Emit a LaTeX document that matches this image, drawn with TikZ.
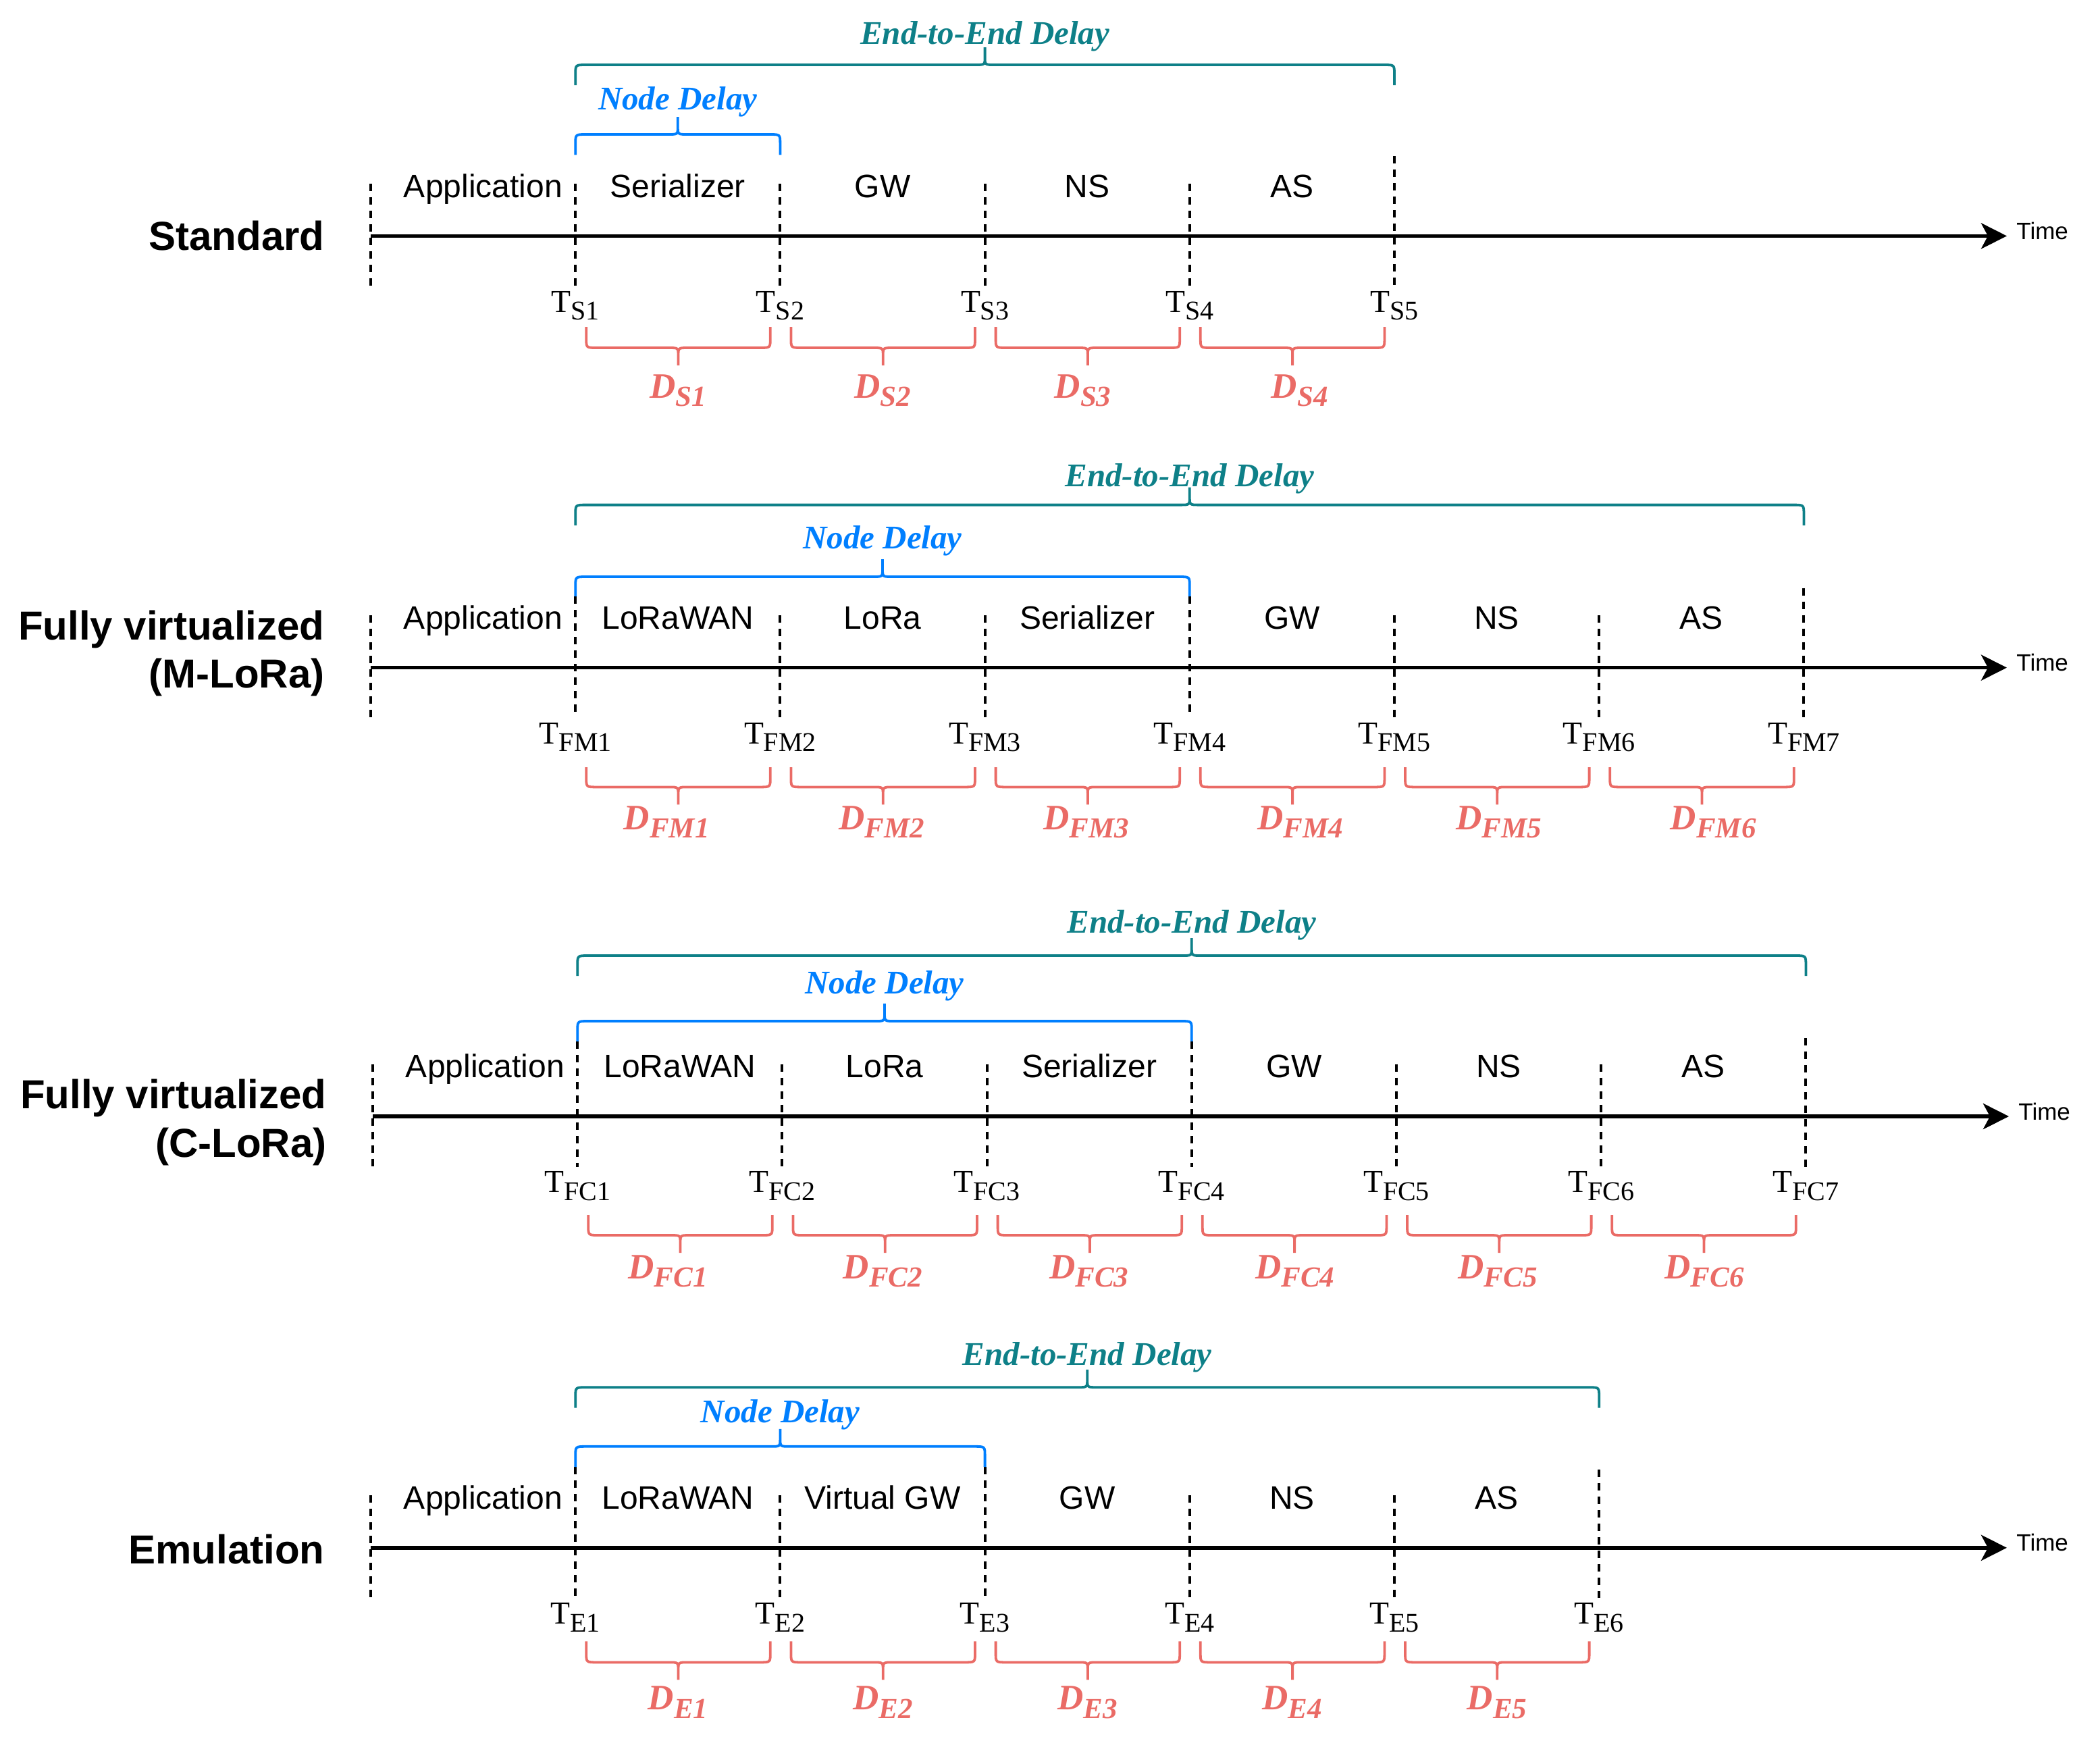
\documentclass[tikz,border=0pt]{standalone}
\usepackage{fontspec}
\setmainfont{Liberation Serif}
\newfontfamily\arialf{Liberation Sans}
\usetikzlibrary{arrows.meta}
\definecolor{e2ecol}{HTML}{0E8088}
\definecolor{nodecol}{HTML}{007FFF}
\definecolor{dcol}{HTML}{EA6B66}
\tikzset{
  axisline/.style={line width=2.8pt,-{Stealth[length=19pt,width=19pt,inset=5pt]}},
  tick/.style={line width=2pt,dash pattern=on 5.5pt off 4.5pt},
  seglbl/.style={font=\arialf\fontsize{24}{28}\selectfont,anchor=base,inner sep=0pt},
  titlelbl/.style={font=\arialf\bfseries\fontsize{30}{36}\selectfont,anchor=base east,inner sep=0pt},
  timelbl/.style={font=\arialf\fontsize{17.5}{20}\selectfont,anchor=base west,inner sep=0pt},
  tlbl/.style={anchor=base,inner sep=0pt},
  dlbl/.style={anchor=base,inner sep=0pt,text=dcol},
  e2elbl/.style={anchor=base,inner sep=0pt,text=e2ecol,font=\bfseries\itshape\fontsize{24.5}{28}\selectfont},
  nodelbl/.style={anchor=base,inner sep=0pt,text=nodecol,font=\bfseries\itshape\fontsize{24.5}{28}\selectfont},
  bracepen/.style={line width=1.9pt},
}
\newcommand{\xk}[1]{274.5+151.6*#1}
\newcommand{\Tlab}[1]{{\fontsize{23.7}{26}\selectfont T}\raisebox{-5.8pt}{\fontsize{20}{22}\selectfont #1}}
\newcommand{\Dlab}[1]{\bfseries\itshape{\fontsize{26.5}{30}\selectfont D}\raisebox{-6.1pt}{\fontsize{21.5}{24}\selectfont #1}}
% top brace: color, x1, x2, y of ends, y of flat part (y grows downwards)
\newcommand{\topbrace}[5]{%
  \pgfmathsetmacro\bxa{#2}\pgfmathsetmacro\bxb{#3}%
  \pgfmathsetmacro\bye{#4}\pgfmathsetmacro\byf{#5}%
  \pgfmathsetmacro\bxm{(\bxa+\bxb)/2}%
  \draw[bracepen,#1] (\bxa,\bye) -- (\bxa,\byf+7) .. controls (\bxa,\byf) .. (\bxa+8,\byf)
     -- (\bxm-7,\byf) .. controls (\bxm,\byf) .. (\bxm,\byf-6) -- (\bxm,\byf-13)
     (\bxb,\bye) -- (\bxb,\byf+7) .. controls (\bxb,\byf) .. (\bxb-8,\byf)
     -- (\bxm+7,\byf) .. controls (\bxm,\byf) .. (\bxm,\byf-6);}
% bottom brace: x1, x2, y of ends, y of flat part
\newcommand{\botbrace}[4]{%
  \pgfmathsetmacro\bxa{#1}\pgfmathsetmacro\bxb{#2}%
  \pgfmathsetmacro\bye{#3}\pgfmathsetmacro\byf{#4}%
  \pgfmathsetmacro\bxm{(\bxa+\bxb)/2}%
  \draw[bracepen,dcol] (\bxa,\bye) -- (\bxa,\byf-7) .. controls (\bxa,\byf) .. (\bxa+8,\byf)
     -- (\bxm-7,\byf) .. controls (\bxm,\byf) .. (\bxm,\byf+6) -- (\bxm,\byf+13)
     (\bxb,\bye) -- (\bxb,\byf-7) .. controls (\bxb,\byf) .. (\bxb-8,\byf)
     -- (\bxm+7,\byf) .. controls (\bxm,\byf) .. (\bxm,\byf+6);}
\begin{document}
\begin{tikzpicture}[x=1pt,y=-1pt]
\useasboundingbox (0,0) rectangle (1555,1285.5);

% ---------------- Standard ----------------
\begin{scope}[shift={(0,174.7)}]
  \node[titlelbl] (S-title) at (240.5,10.5) {Standard};
  \coordinate (S-a) at (274.5,0); \coordinate (S-b) at (1486,0);
  \draw[axisline] (S-a) -- (S-b);
  \node[timelbl] (S-time) at (1493,2.5) {Time};
  \foreach \k/\tp in {0/-38.7,1/-38.7,2/-38.7,3/-38.7,4/-38.7,5/-59}
    \draw[tick] ({\xk{\k}},\tp) -- ({\xk{\k}},37.3);
  \node[seglbl] (S-l0) at (357.7,-28.6) {Application};
  \foreach \k/\lbl in {1/Serializer,2/GW,3/NS,4/AS}
    \node[seglbl] (S-l\k) at ({\xk{\k}+75.8},-28.6) {\lbl};
  \foreach \k in {1,...,5}
    \node[tlbl] (S-T\k) at ({\xk{\k}},56.3) {\Tlab{S\k}};
  \foreach \k/\o in {1/0,2/0,3/-3.5,4/5.5}{
    \botbrace{\xk{\k}+8}{\xk{(\k+1)}-7.3}{67.3}{82.8}
    \node[dlbl] (S-D\k) at ({\xk{\k}+76+\o},120) {\Dlab{S\k}};}
  \topbrace{nodecol}{\xk{1}}{\xk{2}}{-60}{-75.2}
  \node[nodelbl] (S-nd) at ({(\xk{1}+\xk{2})/2},-93.5) {Node Delay};
  \topbrace{e2ecol}{\xk{1}}{\xk{5}}{-111.7}{-126.7}
  \node[e2elbl] (S-e2e) at ({(\xk{1}+\xk{5})/2},-142) {End-to-End Delay};
\end{scope}

% ---------------- Fully virtualized (M-LoRa) ----------------
\begin{scope}[shift={(0,494.3)}]
  \node[titlelbl] (M-title1) at (240.5,-20.7) {Fully virtualized};
  \node[titlelbl] (M-title2) at (240.5,15) {(M-LoRa)};
  \coordinate (M-a) at (274.5,0); \coordinate (M-b) at (1486,0);
  \draw[axisline] (M-a) -- (M-b);
  \node[timelbl] (M-time) at (1493,2.5) {Time};
  \foreach \k/\tp in {0/-38.7,1/-52.7,2/-38.7,3/-38.7,4/-52.7,5/-38.7,6/-38.7,7/-59}
    \draw[tick] ({\xk{\k}},\tp) -- ({\xk{\k}},37.3);
  \node[seglbl] (M-l0) at (357.7,-28.6) {Application};
  \foreach \k/\lbl in {1/LoRaWAN,2/LoRa,3/Serializer,4/GW,5/NS,6/AS}
    \node[seglbl] (M-l\k) at ({\xk{\k}+75.8},-28.6) {\lbl};
  \foreach \k in {1,...,7}
    \node[tlbl] (M-T\k) at ({\xk{\k}},56.3) {\Tlab{FM\k}};
  \foreach \k/\o in {1/-8.5,2/-1,3/-1,4/6,5/1.5,6/8.5}{
    \botbrace{\xk{\k}+8}{\xk{(\k+1)}-7.3}{73.7}{88.4}
    \node[dlbl] (M-D\k) at ({\xk{\k}+76+\o},120) {\Dlab{FM\k}};}
  \topbrace{nodecol}{\xk{1}}{\xk{4}}{-52.7}{-67.3}
  \node[nodelbl] (M-nd) at ({(\xk{1}+\xk{4})/2},-87.9) {Node Delay};
  \topbrace{e2ecol}{\xk{1}}{\xk{7}}{-105.4}{-120.5}
  \node[e2elbl] (M-e2e) at ({(\xk{1}+\xk{7})/2},-134) {End-to-End Delay};
\end{scope}

% ---------------- Fully virtualized (C-LoRa) ----------------
\begin{scope}[shift={(1.5,826.5)}]
  \node[titlelbl] (C-title1) at (240.5,-6) {Fully virtualized};
  \node[titlelbl] (C-title2) at (240.5,30) {(C-LoRa)};
  \coordinate (C-a) at (274.5,0); \coordinate (C-b) at (1486,0);
  \draw[axisline] (C-a) -- (C-b);
  \node[timelbl] (C-time) at (1493,2.5) {Time};
  \foreach \k/\tp in {0/-38.7,1/-55.5,2/-38.7,3/-38.7,4/-55.5,5/-38.7,6/-38.7,7/-58}
    \draw[tick] ({\xk{\k}},\tp) -- ({\xk{\k}},37.3);
  \node[seglbl] (C-l0) at (357.7,-28.6) {Application};
  \foreach \k/\lbl in {1/LoRaWAN,2/LoRa,3/Serializer,4/GW,5/NS,6/AS}
    \node[seglbl] (C-l\k) at ({\xk{\k}+75.8},-28.6) {\lbl};
  \foreach \k in {1,...,7}
    \node[tlbl] (C-T\k) at ({\xk{\k}},56.3) {\Tlab{FC\k}};
  \foreach \k/\o in {1/-9,2/-1.5,3/-0.5,4/0.5,5/-1,6/0.5}{
    \botbrace{\xk{\k}+8}{\xk{(\k+1)}-7.3}{73}{88}
    \node[dlbl] (C-D\k) at ({\xk{\k}+76+\o},120) {\Dlab{FC\k}};}
  \topbrace{nodecol}{\xk{1}}{\xk{4}}{-55.5}{-70.5}
  \node[nodelbl] (C-nd) at ({(\xk{1}+\xk{4})/2},-91) {Node Delay};
  \topbrace{e2ecol}{\xk{1}}{\xk{7}}{-104}{-119}
  \node[e2elbl] (C-e2e) at ({(\xk{1}+\xk{7})/2},-136) {End-to-End Delay};
\end{scope}

% ---------------- Emulation ----------------
\begin{scope}[shift={(0,1145.9)}]
  \node[titlelbl] (E-title) at (240.5,12) {Emulation};
  \coordinate (E-a) at (274.5,0); \coordinate (E-b) at (1486,0);
  \draw[axisline] (E-a) -- (E-b);
  \node[timelbl] (E-time) at (1493,2.5) {Time};
  \foreach \k/\tp in {0/-38.7,1/-59.8,2/-38.7,3/-59.8,4/-38.7,5/-38.7,6/-58}
    \draw[tick] ({\xk{\k}},\tp) -- ({\xk{\k}},37.3);
  \node[seglbl] (E-l0) at (357.7,-28.6) {Application};
  \foreach \k/\lbl in {1/LoRaWAN,2/Virtual GW,3/GW,4/NS,5/AS}
    \node[seglbl] (E-l\k) at ({\xk{\k}+75.8},-28.6) {\lbl};
  \foreach \k in {1,...,6}
    \node[tlbl] (E-T\k) at ({\xk{\k}},56.3) {\Tlab{E\k}};
  \foreach \k in {1,...,5}{
    \botbrace{\xk{\k}+8}{\xk{(\k+1)}-7.3}{69.3}{84.8}
    \node[dlbl] (E-D\k) at ({\xk{\k}+76},120) {\Dlab{E\k}};}
  \topbrace{nodecol}{\xk{1}}{\xk{3}}{-59.8}{-75}
  \node[nodelbl] (E-nd) at ({(\xk{1}+\xk{3})/2},-92.5) {Node Delay};
  \topbrace{e2ecol}{\xk{1}}{\xk{6}}{-103.6}{-118.8}
  \node[e2elbl] (E-e2e) at ({(\xk{1}+\xk{6})/2},-135) {End-to-End Delay};
\end{scope}
\end{tikzpicture}
\end{document}
